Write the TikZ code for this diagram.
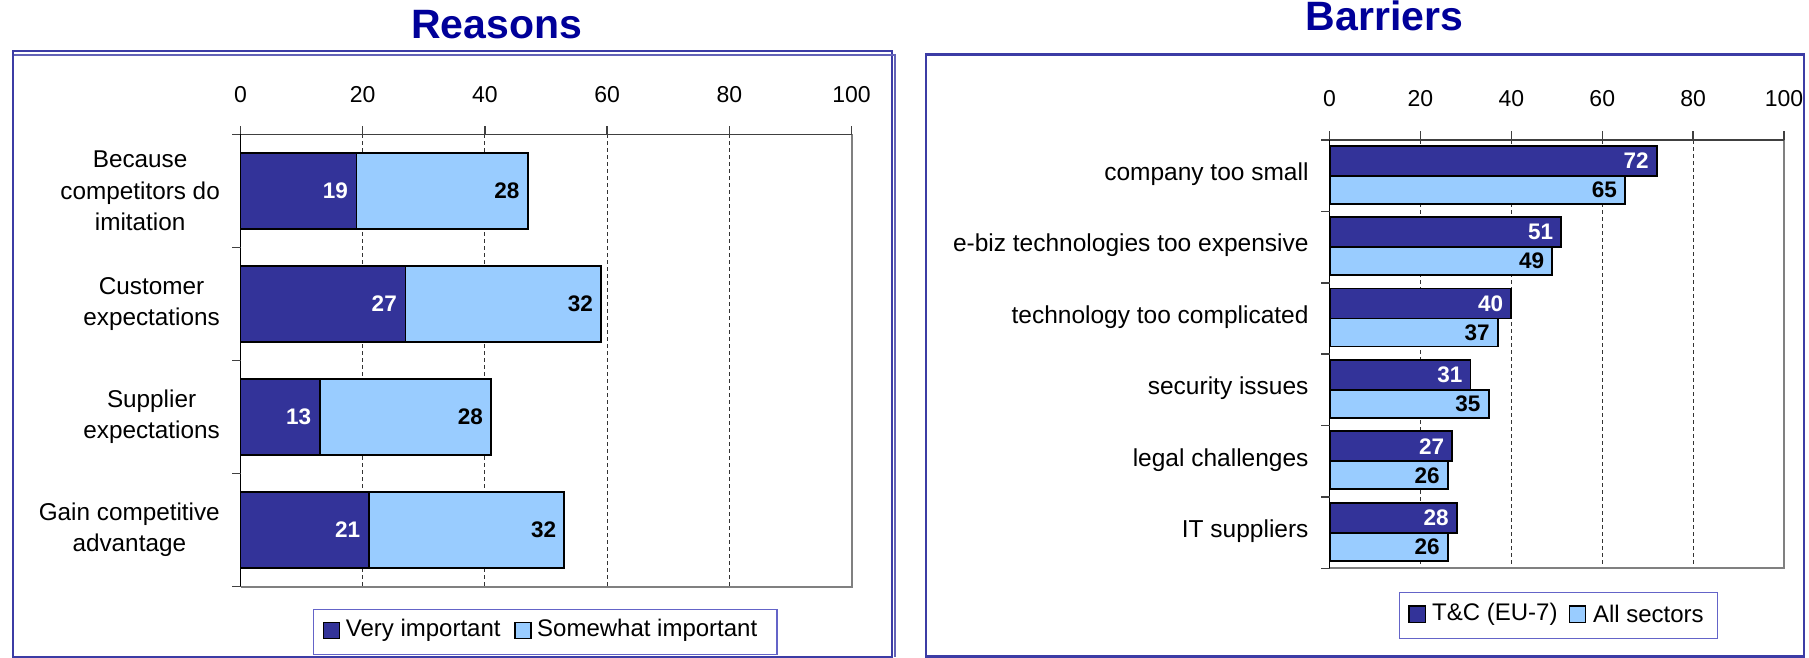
\documentclass[tikz,border=0pt]{standalone}
\usepackage{fontspec}
\setmainfont{Liberation Sans}
\definecolor{darkbar}{RGB}{51,51,153}
\definecolor{lightbar}{RGB}{153,204,255}
\definecolor{titleblue}{RGB}{0,0,153}
\definecolor{framec}{RGB}{60,60,165}
\definecolor{legframe}{RGB}{100,100,200}
\definecolor{axisgray}{RGB}{128,128,128}
\begin{document}
\begin{tikzpicture}[x=1pt,y=-1pt,
  darkseg/.style={fill=darkbar,draw=black,line width=1.8pt},
  lightseg/.style={fill=lightbar,draw=black,line width=1.8pt},
  gridline/.style={dash pattern=on 4pt off 3pt, line width=0.9pt, draw=black!80},
  axisline/.style={line width=1.5pt, draw=black!75},
  borderline/.style={line width=2pt, draw=axisgray},
  ticklab/.style={font=\fontsize{23}{27}\selectfont, inner sep=0pt},
  catlab/.style={font=\fontsize{24.3}{31.5}\selectfont, align=center, anchor=east, inner sep=0pt},
  rcatlab/.style={font=\fontsize{24.5}{29}\selectfont, anchor=east, inner sep=0pt},
  vallab/.style={font=\bfseries\fontsize{22.5}{26}\selectfont, anchor=east, inner sep=0pt},
  legtext/.style={font=\fontsize{24}{28}\selectfont, anchor=west, inner sep=0pt},
  legsq/.style={draw=black, line width=1.3pt},
  legbox/.style={draw=legframe, line width=1.3pt},
  titletext/.style={font=\bfseries\fontsize{41}{48}\selectfont, text=titleblue, anchor=base, inner sep=0pt},
]
\useasboundingbox (0,0) rectangle (1809,658);
\fill[white] (0,0) rectangle (1809,658);

% frames
\draw[framec, line width=2pt] (12.5,51) rectangle (892,656.5);
\draw[framec!80, line width=1.4pt] (14,55) -- (895,55) -- (895,656.5);
\draw[framec, line width=2.2pt] (926.3,54.5) rectangle (1804,656.5);

% titles
\node[titletext] (t1) at (496.5,39) {Reasons};
\node[titletext] (t2) at (1384.5,31) {Barriers};

% ---------------- left chart ----------------
\def\Lx{240.5}\def\Ls{6.11}\def\Lt{134.3}\def\Lb{586.7}\def\Lc{113}
\foreach \v in {20,40,60,80}
  \draw[gridline] ({\Lx+\v*\Ls},\Lt) -- ({\Lx+\v*\Ls},\Lb);
\draw[borderline] (\Lx,\Lb) -- ({\Lx+100*\Ls},\Lb) -- ({\Lx+100*\Ls},\Lt);
\foreach \a/\b/\i in {19/28/0,27/32/1,13/28/2,21/32/3} {
  \pgfmathsetmacro\cy{\Lt+(\i+0.5)*\Lc}
  \draw[darkseg] (\Lx,{\cy-38}) rectangle ({\Lx+\a*\Ls},{\cy+38});
  \draw[lightseg] ({\Lx+\a*\Ls},{\cy-38}) rectangle ({\Lx+(\a+\b)*\Ls},{\cy+38});
  \node[vallab,text=white] (la\i) at ({\Lx+\a*\Ls-8.5},\cy) {\a};
  \node[vallab] (lb\i) at ({\Lx+(\a+\b)*\Ls-8},\cy) {\b};
}
\draw[axisline] ({\Lx-8.5},\Lt) -- ({\Lx+100*\Ls},\Lt);
\foreach \v in {0,20,40,60,80,100} {
  \draw[axisline] ({\Lx+\v*\Ls},\Lt) -- ++(0,-8.5);
  \node[ticklab] (lx\v) at ({\Lx+\v*\Ls},94.3) {\v};
}
\draw[axisline, draw=black] (\Lx,\Lt) -- (\Lx,\Lb);
\foreach \i in {1,...,4}
  \draw[axisline] (\Lx,{\Lt+\i*\Lc}) -- ++(-8.5,0);

\node[catlab] (lc0) at (220,190.8) {Because\\competitors do\\imitation};
\node[catlab] (lc1) at (220,303.8) {Customer\\expectations};
\node[catlab] (lc2) at (220,416.8) {Supplier\\expectations};
\node[catlab] (lc3) at (220,529.8) {Gain competitive\\advantage};

% left legend
\draw[legbox] (313.3,609.3) rectangle (777,654.3);
\draw[legsq, fill=darkbar] (323.3,622.7) rectangle (339.3,638.7);
\node[legtext] (lg1) at (345.7,630.7) {Very important};
\draw[legsq, fill=lightbar] (515,622.7) rectangle (531,638.7);
\node[legtext] (lg2) at (537,630.7) {Somewhat important};

% ---------------- right chart ----------------
\def\Rx{1329.6}\def\Rs{4.544}\def\Rt{140}\def\Rb{568.4}\def\Rc{71.4}
\foreach \v in {20,40,60,80}
  \draw[gridline] ({\Rx+\v*\Rs},\Rt) -- ({\Rx+\v*\Rs},\Rb);
\draw[borderline] (\Rx,\Rb) -- ({\Rx+100*\Rs},\Rb) -- ({\Rx+100*\Rs},\Rt);
\foreach \a/\b/\i/\t in {72/65/0/company too small,51/49/1/e-biz technologies too expensive,40/37/2/technology too complicated,31/35/3/security issues,27/26/4/legal challenges,28/26/5/IT suppliers} {
  \pgfmathsetmacro\cy{\Rt+(\i+0.5)*\Rc}
  \draw[darkseg] (\Rx,{\cy-30}) rectangle ({\Rx+\a*\Rs},\cy);
  \draw[lightseg] (\Rx,\cy) rectangle ({\Rx+\b*\Rs},{\cy+28});
  \node[vallab,text=white] (ra\i) at ({\Rx+\a*\Rs-8},{\cy-15}) {\a};
  \node[vallab] (rb\i) at ({\Rx+\b*\Rs-8},{\cy+14}) {\b};
  \node[rcatlab] (rc\i) at (1308.7,{\cy-1.5}) {\t};
}
\draw[axisline] ({\Rx-8.5},\Rt) -- ({\Rx+100*\Rs},\Rt);
\foreach \v in {0,20,40,60,80,100} {
  \draw[axisline] ({\Rx+\v*\Rs},\Rt) -- ++(0,-8.5);
  \node[ticklab] (rx\v) at ({\Rx+\v*\Rs},98.3) {\v};
}
\draw[axisline, draw=black] (\Rx,\Rt) -- (\Rx,\Rb);
\foreach \i in {1,...,6}
  \draw[axisline] (\Rx,{\Rt+\i*\Rc}) -- ++(-8.5,0);

% right legend
\draw[legbox] (1399.7,592.3) rectangle (1717.4,638.3);
\draw[legsq, fill=darkbar] (1409,606) rectangle (1425.8,622.7);
\node[legtext] (rg1) at (1432,614.3) {T\&C (EU-7)};
\draw[legsq, fill=lightbar] (1569.6,606) rectangle (1585.8,622.7);
\node[legtext] (rg2) at (1592.8,614.3) {All sectors};
\end{tikzpicture}
\end{document}
